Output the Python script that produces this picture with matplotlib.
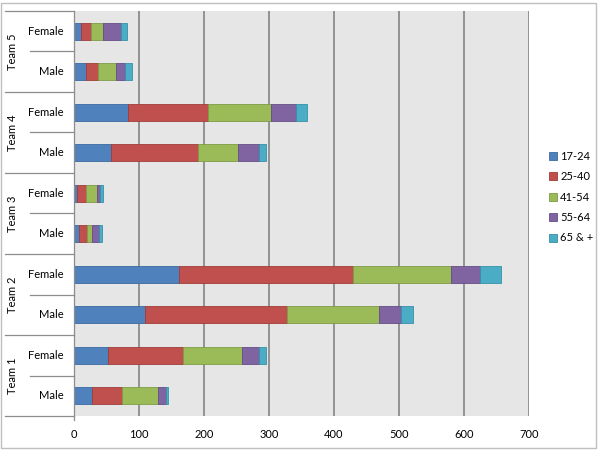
import matplotlib.pyplot as plt
import matplotlib.transforms as mtransforms
from matplotlib.patches import Rectangle
from matplotlib.lines import Line2D
import numpy as np

plt.rcParams['font.family'] = ['Lato', 'DejaVu Sans']

teams = ['Team 1', 'Team 2', 'Team 3', 'Team 4', 'Team 5']
genders = ['Male', 'Female']
age_groups = ['17-24', '25-40', '41-54', '55-64', '65 & +']

# rows bottom to top: Team 1 Male, Team 1 Female, Team 2 Male, ...
v_17_24 = [27, 53, 109, 162, 7, 5, 57, 83, 18, 11]
v_25_40 = [47, 114, 218, 267, 13, 14, 134, 123, 19, 15]
v_41_54 = [55, 91, 142, 151, 7, 16, 61, 97, 27, 19]
v_55_64 = [13, 26, 34, 45, 11, 5, 32, 39, 14, 27]
v_65_up = [3, 11, 18, 32, 5, 4, 11, 17, 11, 10]

series = [v_17_24, v_25_40, v_41_54, v_55_64, v_65_up]
colors = ['#4F81BD', '#C0504D', '#9BBB59', '#8064A2', '#4BACC6']
edges = ['#3A6A9F', '#A03D3A', '#7E9B45', '#654E85', '#3690A8']
fs = 8

fig = plt.figure(figsize=(6, 4.5), dpi=100)
ax = fig.add_axes([74/600, 34/450, 455/600, 405/450])
ax.set_facecolor('#e6e6e6')

y = np.arange(len(v_17_24))
left = np.zeros(len(y))
for vals, c, ec, lab in zip(series, colors, edges, age_groups):
    ax.barh(y, vals, left=left, height=0.42, color=c, edgecolor=ec,
            linewidth=0.6, label=lab, zorder=3)
    left += np.array(vals)

ax.set_xlim(0, 700)
ax.set_ylim(-0.5, len(y) - 0.5)
ax.set_xticks(range(0, 701, 100))
ax.xaxis.grid(True, color='#8c8c8c', linewidth=1.3, zorder=1)
ax.tick_params(axis='x', length=0, labelsize=fs, pad=9, colors='black')
ax.set_yticks([])
for s in ax.spines.values():
    s.set_visible(False)

# category labels and separators on the left
trans = mtransforms.blended_transform_factory(ax.transAxes, ax.transData)
for i in y:
    ax.text(-0.022, i, genders[i % 2], transform=trans, ha='right',
            va='center', fontsize=fs)
for t, name in enumerate(teams):
    ax.text(-0.136, 2 * t + 0.5, name, transform=trans, ha='center',
            va='center', rotation=90, fontsize=fs)
    ax.add_line(Line2D([-0.097, 0], [2 * t + 0.5] * 2, transform=trans,
                       color='#8c8c8c', lw=0.9, clip_on=False))
for b in np.arange(-0.5, len(y), 2):
    ax.add_line(Line2D([-0.152, 0], [b, b], transform=trans,
                       color='#8c8c8c', lw=0.9, clip_on=False))
ax.add_line(Line2D([0, 0], [-0.6, len(y) - 0.5], transform=trans,
                   color='#8c8c8c', lw=0.9, clip_on=False, zorder=4))

ax.legend(loc='center left', bbox_to_anchor=(0.915, 0.562),
          bbox_transform=fig.transFigure, frameon=False, fontsize=fs,
          handlelength=0.75, handleheight=0.75, handletextpad=0.25,
          labelspacing=0.85, borderpad=0, borderaxespad=0)

fig.patches.append(Rectangle((0.002, 0.004), 0.992, 0.99,
                             transform=fig.transFigure, fill=False,
                             ec='#bfbfbf', lw=1))

fig.savefig('out.png', dpi=100)
